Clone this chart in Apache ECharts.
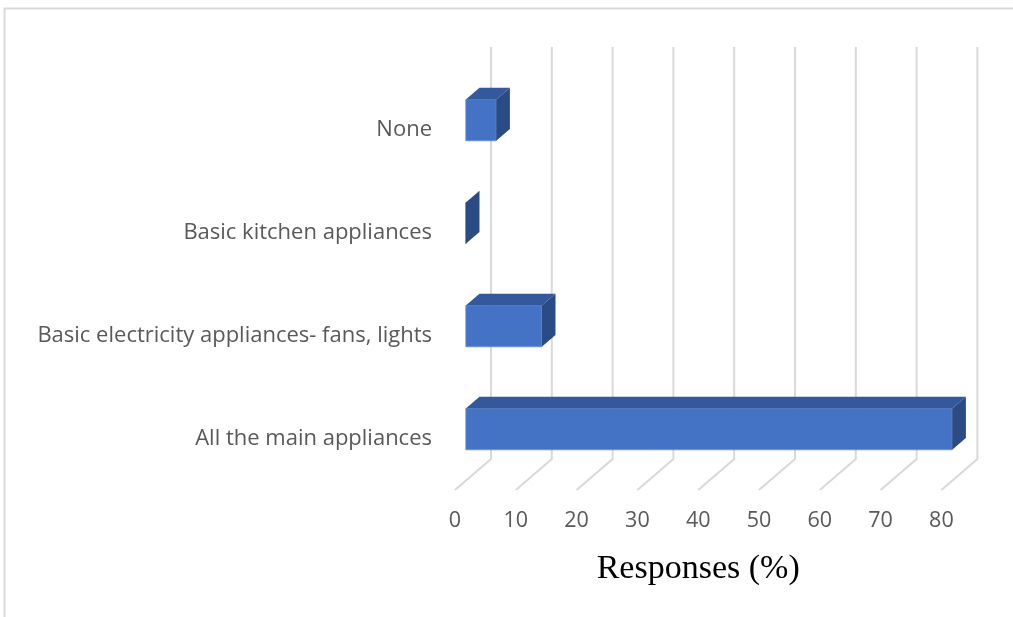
<!DOCTYPE html>
<html>
<head>
<meta charset="utf-8">
<script src="https://cdn.jsdelivr.net/npm/echarts@6/dist/echarts.min.js"></script>
<style>
html,body{margin:0;padding:0;background:#fff;}
#chart{width:1013px;height:617px;}
</style>
</head>
<body>
<div id="chart"></div>
<script>
// Data
const categories = ['All the main appliances', 'Basic electricity appliances- fans, lights', 'Basic kitchen appliances', 'None'];
const values = [80, 12.5, 0, 5];
const tickValues = [0, 10, 20, 30, 40, 50, 60, 70, 80];
const axisTitle = 'Responses (%)';

// 3D depth vector (pixels) from front of floor to back wall
const DX = 36, DY = -31;
const F1 = 0.3, F2 = 0.68;

const chart = echarts.init(document.getElementById('chart'));

function gridItem(params, api) {
  const cs = params.coordSys;
  const x = api.coord([api.value(0), 0])[0];
  const bottom = cs.y + cs.height;
  const top = cs.y;
  const style = { stroke: '#D9D9D9', lineWidth: 2, fill: null };
  return {
    type: 'group',
    children: [
      { type: 'polyline', shape: { points: [[x, bottom], [x + DX, bottom + DY], [x + DX, top + DY]] }, style: style }
    ]
  };
}

function barItem(params, api) {
  const v = api.value(0);
  const cat = api.value(1);
  const p0 = api.coord([0, cat]);
  const p1 = api.coord([v, cat]);
  const h = api.size([0, 1])[1] * 0.4;
  const ax = p0[0] + F1 * DX;
  const bx = p1[0] + F1 * DX;
  const cy = p0[1] + F1 * DY;
  const t = cy - h / 2, b = cy + h / 2;
  const ddx = (F2 - F1) * DX, ddy = (F2 - F1) * DY;
  return {
    type: 'group',
    children: [
      { type: 'rect', shape: { x: ax, y: t, width: bx - ax, height: h }, style: { fill: '#4472C4', stroke: '#6B8FD3', lineWidth: 0.8 } },
      { type: 'polygon', shape: { points: [[ax, t], [bx, t], [bx + ddx, t + ddy], [ax + ddx, t + ddy]] }, style: { fill: '#34589C' } },
      { type: 'polygon', shape: { points: [[bx, t], [bx + ddx, t + ddy], [bx + ddx, b + ddy], [bx, b]] }, style: { fill: '#2B4B85' } }
    ]
  };
}

chart.setOption({
  animation: false,
  backgroundColor: '#ffffff',
  grid: { left: 455, right: 71.6, top: 78, bottom: 127, containLabel: false },
  xAxis: {
    type: 'value', min: 0, max: 80, interval: 10,
    axisLine: { show: false }, axisTick: { show: false }, splitLine: { show: false },
    axisLabel: { color: '#595959', fontSize: 21.5, fontFamily: 'Open Sans', margin: 20 },
    name: axisTitle, nameLocation: 'middle', nameGap: 62,
    nameTextStyle: { color: '#000', fontSize: 34, fontFamily: 'Liberation Serif' }
  },
  yAxis: {
    type: 'category', data: categories,
    axisLine: { show: false }, axisTick: { show: false }, splitLine: { show: false },
    axisLabel: { color: '#595959', fontSize: 22, fontFamily: 'Open Sans', margin: 23, padding: [4, 0, 0, 0] }
  },
  graphic: [
    { type: 'polyline', shape: { points: [[4.5, 617], [4.5, 8.5], [1013, 8.5]] }, style: { stroke: '#D9D9D9', lineWidth: 2, fill: null }, silent: true }
  ],
  series: [
    { type: 'custom', renderItem: gridItem, data: tickValues.map(v => [v]), encode: { x: 0 }, z: 1, silent: true },
    { type: 'custom', renderItem: barItem, data: values.map((v, i) => [v, i]), encode: { x: 0, y: 1 }, z: 2 }
  ]
});
</script>
</body>
</html>
